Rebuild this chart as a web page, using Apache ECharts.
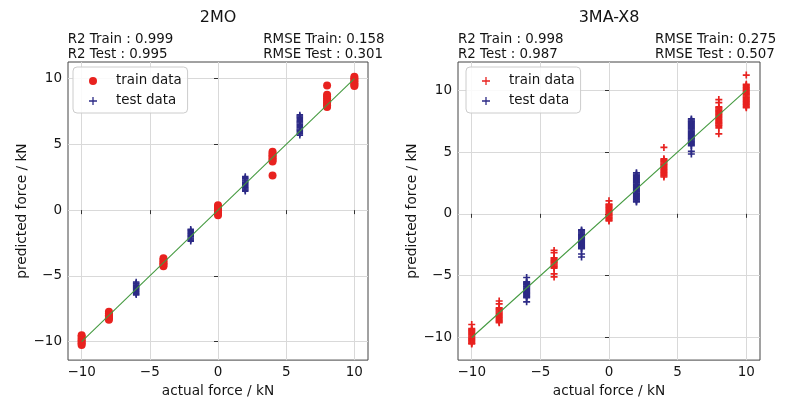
<!DOCTYPE html>
<html><head><meta charset="utf-8">
<script src="https://cdn.jsdelivr.net/npm/echarts@6/dist/echarts.min.js"></script>
<style>html,body{margin:0;padding:0;background:#fff}#c{width:789px;height:403px}</style>
</head><body><div id="c"></div><script>
// ---------- data ----------
const axisTicks = [-10, -5, 0, 5, 10];
const refLineX = [-10, 10];
const refLineY = [-10, 10];

// 2MO
const moTrainX = [-10, -8, -4, 0, 4, 8, 10];
const moTrainY = [
  [-9.51, -9.63, -9.77, -9.9, -10.02, -10.13, -10.25],
  [-7.73, -7.86, -7.99, -8.1, -8.22, -8.34],
  [-3.66, -3.79, -3.92, -4.04, -4.15, -4.27],
  [0.38, 0.25, 0.11, -0.02, -0.14, -0.27, -0.39],
  [4.44, 4.31, 4.18, 4.05, 3.93, 3.81, 3.69, 2.64],
  [9.48, 8.77, 8.63, 8.48, 8.34, 8.2, 8.07, 7.95, 7.83],
  [10.14, 10.02, 9.89, 9.77, 9.65, 9.53, 9.43]
];
const moTestX = [-6, -2, 2, 6];
const moTestY = [
  [-5.47, -5.55, -5.62, -5.7, -5.79, -5.86, -5.94, -6.02, -6.1, -6.18, -6.27, -6.35, -6.44],
  [-1.45, -1.53, -1.61, -1.7, -1.78, -1.86, -1.95, -2.03, -2.12, -2.2, -2.28, -2.37],
  [2.55, 2.46, 2.38, 2.29, 2.21, 2.12, 2.04, 1.95, 1.87, 1.78, 1.69, 1.61, 1.52, 1.43],
  [7.24, 7.15, 7.07, 6.98, 6.89, 6.8, 6.71, 6.62, 6.53, 6.44, 6.35, 6.26, 6.17, 6.08, 5.99, 5.9, 5.8, 5.7]
];

// 3MA-X8
const maTrainX = [-10, -8, -4, 0, 4, 8, 10];
const maTrainY = [
  [-8.95, -9.28, -9.36, -9.45, -9.53, -9.62, -9.7, -9.79, -9.88, -9.96, -10.05, -10.13, -10.22, -10.3, -10.39, -10.47, -10.52],
  [-7.05, -7.28, -7.6, -7.68, -7.77, -7.86, -7.94, -8.03, -8.12, -8.2, -8.29, -8.38, -8.46, -8.55, -8.64, -8.72, -8.8],
  [-2.96, -3.15, -3.55, -3.63, -3.72, -3.8, -3.89, -3.97, -4.06, -4.14, -4.23, -4.31, -4.4, -4.85, -5.1],
  [1.05, 0.78, 0.7, 0.61, 0.52, 0.44, 0.35, 0.26, 0.18, 0.09, 0.0, -0.08, -0.17, -0.26, -0.34, -0.43, -0.52, -0.58],
  [5.37, 4.45, 4.37, 4.28, 4.2, 4.11, 4.02, 3.94, 3.85, 3.77, 3.68, 3.59, 3.51, 3.42, 3.33, 3.25, 3.16, 3.07, 2.98],
  [9.24, 9.0, 8.65, 8.57, 8.48, 8.39, 8.31, 8.22, 8.13, 8.05, 7.96, 7.87, 7.79, 7.7, 7.61, 7.53, 7.44, 7.35, 7.27, 7.18, 7.1, 6.95, 6.47],
  [11.22, 10.48, 10.4, 10.31, 10.22, 10.14, 10.05, 9.96, 9.88, 9.79, 9.7, 9.62, 9.53, 9.44, 9.36, 9.27, 9.18, 9.1, 9.01, 8.92, 8.84, 8.75, 8.66, 8.58]
];
const maTestX = [-6, -2, 2, 6];
const maTestY = [
  [-5.15, -5.5, -5.58, -5.67, -5.75, -5.84, -5.92, -6.01, -6.1, -6.18, -6.27, -6.35, -6.44, -6.52, -6.61, -6.7, -6.78, -7.12],
  [-1.3, -1.38, -1.47, -1.55, -1.64, -1.72, -1.81, -1.9, -1.98, -2.07, -2.15, -2.24, -2.32, -2.41, -2.5, -2.58, -2.67, -2.75, -2.82, -3.25, -3.49],
  [3.32, 3.22, 3.13, 3.04, 2.95, 2.86, 2.77, 2.68, 2.59, 2.5, 2.4, 2.31, 2.22, 2.13, 2.04, 1.95, 1.86, 1.77, 1.68, 1.59, 1.5, 1.41, 1.31, 1.22, 1.13, 1.03, 0.96],
  [7.68, 7.59, 7.5, 7.41, 7.32, 7.23, 7.14, 7.05, 6.96, 6.87, 6.78, 6.69, 6.6, 6.51, 6.42, 6.33, 6.24, 6.15, 6.06, 5.97, 5.88, 5.79, 5.7, 5.61, 5.52, 5.05, 4.84]
];

const titles = ['2MO', '3MA-X8'];
const statsLeft = [['R2 Train : 0.999', 'R2 Test : 0.995'], ['R2 Train : 0.998', 'R2 Test : 0.987']];
const statsRight = [['RMSE Train: 0.158', 'RMSE Test : 0.301'], ['RMSE Train: 0.275', 'RMSE Test : 0.507']];

// ---------- helpers ----------
function pts(xs, ys) {
  const out = [];
  xs.forEach((x, i) => ys[i].forEach(y => out.push([x, y])));
  return out;
}
const FF = '"DejaVu Sans", Verdana, sans-serif';
const TXT = '#141414';
const RED = '#e8221f';
const BLUE = '#2c2a86';
const PLUS = 'path://M-1,-0.24H-0.24V-1H0.24V-0.24H1V0.24H0.24V1H-0.24V0.24H-1Z';
const PLUS_THIN = 'path://M-1,-0.16H-0.16V-1H0.16V-0.16H1V0.16H0.16V1H-0.16V0.16H-1Z';
const fmt = v => String(v).replace('-', '\u2212');

const grids = [
  { left: 68, top: 62, width: 300, height: 307 },
  { left: 458, top: 62, width: 302, height: 307 }
];
const yRanges = [[-11.4, 11.26], [-11.83, 12.28]];

function xAxis(g) {
  return {
    type: 'value', gridIndex: g, min: -11, max: 11,
    axisLine: { show: false },
    axisTick: { show: true, inside: false, length: 4, customValues: axisTicks, lineStyle: { color: '#333' } },
    axisLabel: { customValues: axisTicks, formatter: fmt, fontSize: 13.5, color: TXT, margin: 5, fontFamily: FF },
    splitLine: { show: true, lineStyle: { color: '#d9d9d9', width: 1 } },
    name: 'actual force / kN', nameLocation: 'middle', nameGap: 17,
    nameTextStyle: { fontSize: 13.7, color: TXT, fontFamily: FF }
  };
}
function yAxis(g) {
  return {
    type: 'value', gridIndex: g, min: yRanges[g][0], max: yRanges[g][1],
    axisLine: { show: false },
    axisTick: { show: true, inside: false, length: 4, customValues: axisTicks, lineStyle: { color: '#333' } },
    axisLabel: { customValues: axisTicks, formatter: fmt, fontSize: 13.5, color: TXT, margin: 6, fontFamily: FF },
    splitLine: { show: true, lineStyle: { color: '#d9d9d9', width: 1 } },
    name: 'predicted force / kN', nameLocation: 'middle', nameGap: 37,
    nameTextStyle: { fontSize: 13.7, color: TXT, fontFamily: FF }
  };
}

const series = [
  { name: 'train data', type: 'scatter', xAxisIndex: 0, yAxisIndex: 0, symbol: 'circle', symbolSize: 8,
    itemStyle: { color: RED, opacity: 1 }, data: pts(moTrainX, moTrainY), z: 2 },
  { name: 'test data', type: 'scatter', xAxisIndex: 0, yAxisIndex: 0, symbol: PLUS, symbolSize: 6.5,
    itemStyle: { color: BLUE, opacity: 1 }, data: pts(moTestX, moTestY), z: 2 },
  { type: 'line', xAxisIndex: 0, yAxisIndex: 0, data: refLineX.map((x, i) => [x, refLineY[i]]),
    symbol: 'none', lineStyle: { color: '#449a40', width: 1.1 }, z: 4, silent: true },
  { name: 'train data', type: 'scatter', xAxisIndex: 1, yAxisIndex: 1, symbol: PLUS, symbolSize: 7,
    itemStyle: { color: RED, opacity: 1 }, data: pts(maTrainX, maTrainY), z: 2 },
  { name: 'test data', type: 'scatter', xAxisIndex: 1, yAxisIndex: 1, symbol: PLUS, symbolSize: 7,
    itemStyle: { color: BLUE, opacity: 1 }, data: pts(maTestX, maTestY), z: 2 },
  { type: 'line', xAxisIndex: 1, yAxisIndex: 1, data: refLineX.map((x, i) => [x, refLineY[i]]),
    symbol: 'none', lineStyle: { color: '#449a40', width: 1.1 }, z: 4, silent: true }
];

function legend(left, trainIcon) {
  return {
    orient: 'vertical', left: left, top: 67, padding: [7, 6, 5, 16],
    itemWidth: 8, itemHeight: 8, itemGap: 6,
    borderColor: '#cccccc', borderWidth: 1, borderRadius: 4, backgroundColor: 'rgba(255,255,255,0.85)',
    textStyle: { fontSize: 13.4, color: TXT, fontFamily: FF, lineHeight: 14, padding: [0, 0, 0, 14] },
    data: [{ name: 'train data', icon: trainIcon }, { name: 'test data', icon: PLUS_THIN }],
    selectedMode: false, z: 10
  };
}

const graphics = [];
const titleX = [218, 609];
const statX = [[67.7, 263.3], [458, 655]];
for (let g = 0; g < 2; g++) {
  graphics.push({ type: 'text', x: titleX[g], y: 18, style: { text: titles[g], font: '16px ' + FF, fill: TXT, align: 'center', verticalAlign: 'middle' } });
  [40, 54.3].forEach((yy, k) => {
    graphics.push({ type: 'text', x: statX[g][0], y: yy, style: { text: statsLeft[g][k], font: '13.4px ' + FF, fill: TXT, align: 'left', verticalAlign: 'middle' } });
    graphics.push({ type: 'text', x: statX[g][1], y: yy, style: { text: statsRight[g][k], font: '13.4px ' + FF, fill: TXT, align: 'left', verticalAlign: 'middle' } });
  });
}

const chart = echarts.init(document.getElementById('c'), null, { renderer: 'canvas' });
chart.setOption({
  animation: false,
  backgroundColor: '#ffffff',
  grid: grids.map(g => Object.assign({ show: true, borderColor: '#444', borderWidth: 1, backgroundColor: 'transparent' }, g)),
  xAxis: [xAxis(0), xAxis(1)],
  yAxis: [yAxis(0), yAxis(1)],
  legend: [legend(73, 'circle'), legend(466, PLUS_THIN)],
  series: series,
  graphic: graphics
});
</script></body></html>
